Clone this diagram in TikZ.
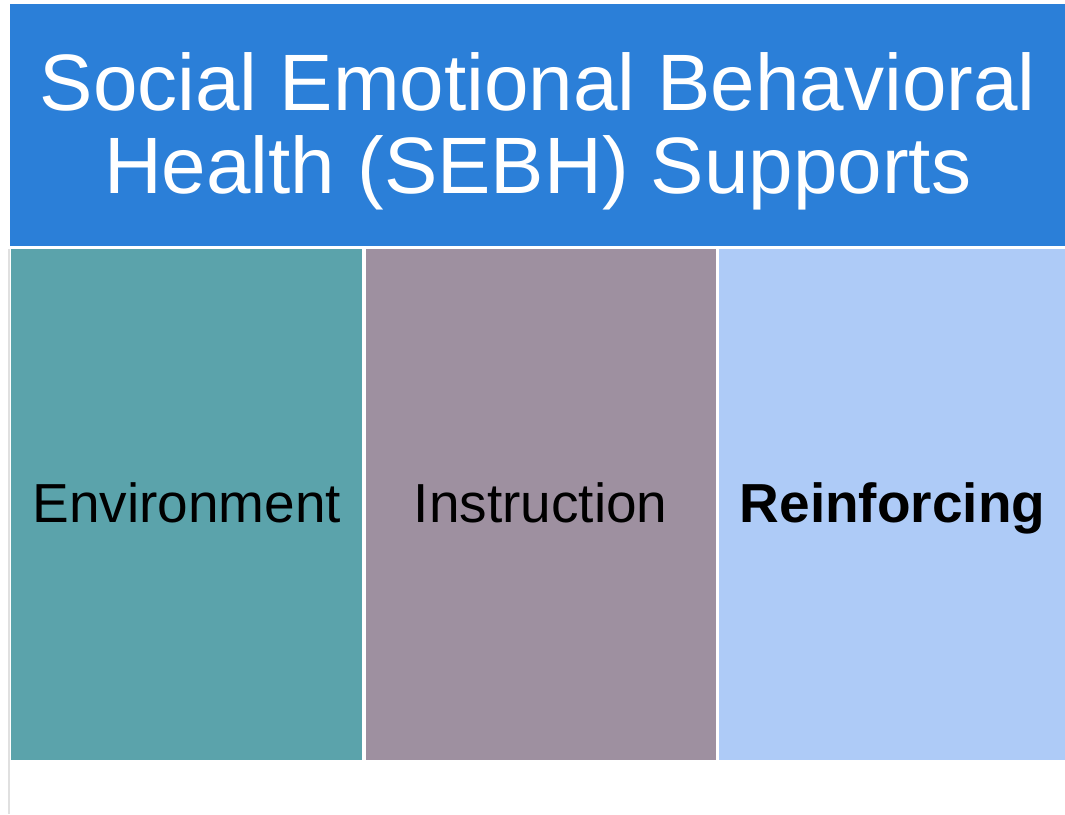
\documentclass[tikz,border=0pt]{standalone}
\usepackage{fontspec}
\setmainfont{Liberation Sans}
\usetikzlibrary{positioning}
\definecolor{headblue}{HTML}{2B7FD8}
\definecolor{envteal}{HTML}{5BA3AB}
\definecolor{instrmauve}{HTML}{9E90A0}
\definecolor{reinfblue}{HTML}{AECBF7}

\begin{document}
\begin{tikzpicture}[x=1pt,y=-1pt,
  colbox/.style={anchor=north west, inner sep=0pt, minimum height=511pt, text height=35pt, text depth=0pt, font=\fontsize{55}{60}\selectfont, text=black}]
\useasboundingbox (0,0) rectangle (1065,814);
\fill[white] (0,0) rectangle (1065,814);
\draw[black!12, line width=1.2pt] (9,249) -- (9,814);
\node (head) [anchor=north west, inner sep=0pt, minimum width=1055pt, minimum height=242pt, fill=headblue, text=white, align=center, text height=136pt, text depth=0pt, font=\fontsize{80}{83}\selectfont] at (10,4) {Social Emotional Behavioral\\Health (SEBH) Supports};
\node (env) [colbox, minimum width=351pt, fill=envteal] at (11,249) {Environment};
\node (instr) [colbox, minimum width=350pt, fill=instrmauve, right=3pt of env] {Instruction};
\node (reinf) [colbox, minimum width=347pt, fill=reinfblue, right=3pt of instr, font=\fontsize{55}{60}\selectfont\bfseries] {Reinforcing};
\end{tikzpicture}
\end{document}
